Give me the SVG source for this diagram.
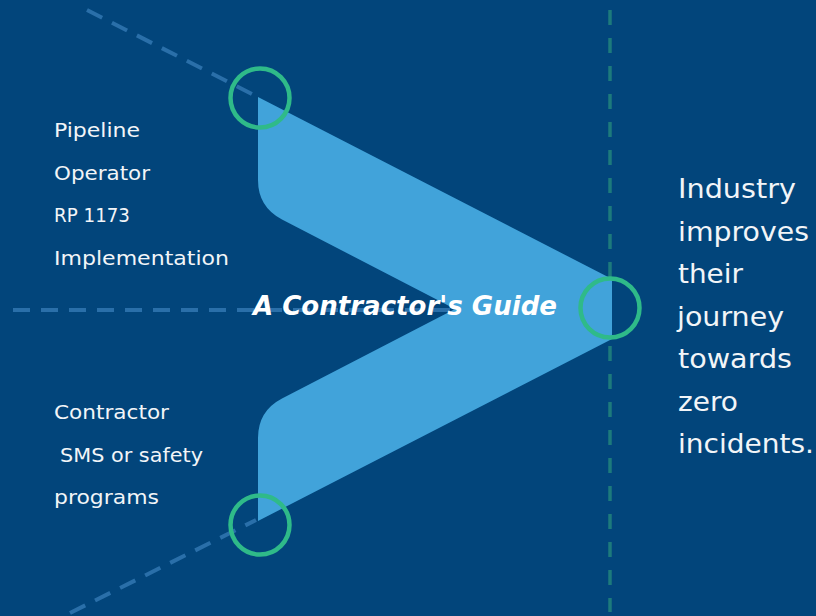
<svg xmlns="http://www.w3.org/2000/svg" width="816" height="616" viewBox="0 0 816 616">
<style>
.bg{fill:#02457B}
.chev{fill:#41A3DA}
.dash{fill:none;stroke:#2A6FA9;stroke-width:4;stroke-dasharray:17 11}
.vdash{fill:none;stroke:#1D7A7C;stroke-width:3.5;stroke-dasharray:15 13}
.ring{fill:none;stroke:#2FBA89;stroke-width:4.5}
.lbl{font-family:"DejaVu Sans","Liberation Sans",sans-serif;font-size:20px;fill:#F2F5F8;font-weight:normal}
.rt{font-family:"DejaVu Sans","Liberation Sans",sans-serif;font-size:27px;fill:#F2F5F8}
.title{font-family:"DejaVu Sans","Liberation Sans",sans-serif;font-size:27px;font-weight:bold;font-style:italic;fill:#FFFFFF}
</style>
<rect class="bg" x="0" y="0" width="816" height="616"/>
<g id="connectors">
<line class="dash" x1="87" y1="10" x2="252" y2="94"/>
<line class="dash" x1="70" y1="613" x2="256" y2="520"/>
<line class="dash" x1="13" y1="310" x2="612" y2="310"/>
<line class="vdash" x1="610" y1="10" x2="610" y2="612"/>
</g>
<g id="chevron">
<path class="chev" d="M258,97 L612,279 L612,339 L258,521 L258,438 Q258,411 282,398.5 L455,309 L282,219.5 Q258,207 258,180 Z"/>
</g>
<g id="rings">
<circle class="ring" cx="260" cy="98" r="29.5"/>
<circle class="ring" cx="610" cy="308" r="29.5"/>
<circle class="ring" cx="260" cy="525" r="29.5"/>
</g>
<g id="node-operator">
<text class="lbl" x="54" y="137" textLength="86" lengthAdjust="spacingAndGlyphs">Pipeline</text>
<text class="lbl" x="54" y="180" textLength="96" lengthAdjust="spacingAndGlyphs">Operator</text>
<text class="lbl" x="54" y="222" textLength="76" lengthAdjust="spacingAndGlyphs">RP 1173</text>
<text class="lbl" x="54" y="265" textLength="175" lengthAdjust="spacingAndGlyphs">Implementation</text>
</g>
<g id="node-contractor">
<text class="lbl" x="54" y="419" textLength="115" lengthAdjust="spacingAndGlyphs">Contractor</text>
<text class="lbl" x="60" y="462" textLength="143" lengthAdjust="spacingAndGlyphs">SMS or safety</text>
<text class="lbl" x="54" y="504" textLength="105" lengthAdjust="spacingAndGlyphs">programs</text>
</g>
<g id="node-title">
<text class="title" x="253" y="315" textLength="304" lengthAdjust="spacingAndGlyphs">A Contractor's Guide</text>
</g>
<g id="node-outcome">
<text class="rt" x="678" y="198" textLength="118" lengthAdjust="spacingAndGlyphs">Industry</text>
<text class="rt" x="678" y="241" textLength="131" lengthAdjust="spacingAndGlyphs">improves</text>
<text class="rt" x="678" y="283" textLength="65" lengthAdjust="spacingAndGlyphs">their</text>
<text class="rt" x="677" y="326" textLength="107" lengthAdjust="spacingAndGlyphs">journey</text>
<text class="rt" x="678" y="368" textLength="114" lengthAdjust="spacingAndGlyphs">towards</text>
<text class="rt" x="678" y="411" textLength="60" lengthAdjust="spacingAndGlyphs">zero</text>
<text class="rt" x="678" y="453" textLength="136" lengthAdjust="spacingAndGlyphs">incidents.</text>
</g>
</svg>
